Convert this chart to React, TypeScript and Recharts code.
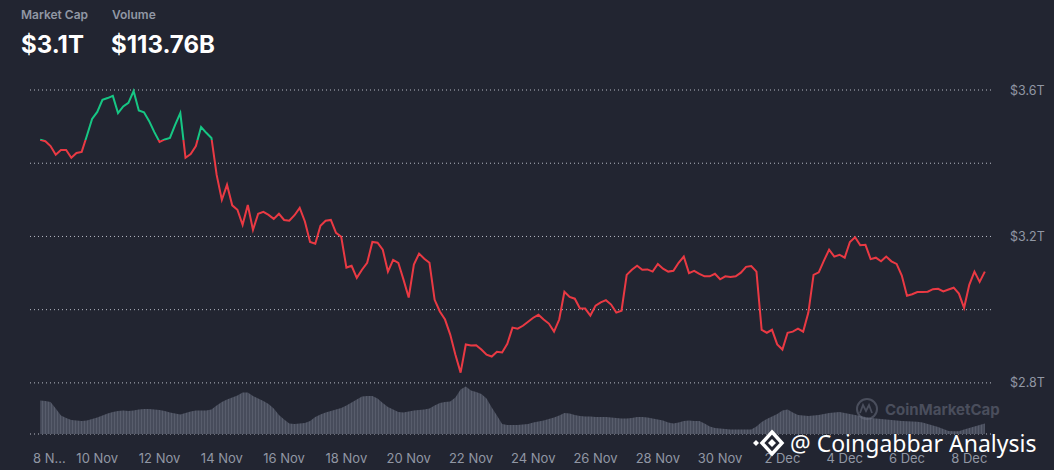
import { Area, CartesianGrid, ComposedChart, Line, XAxis, YAxis } from "recharts";

// market cap in $T, one point every 4 hours from 8 Nov 04:00
const marketCap = [
  3.464, 3.46, 3.447, 3.423, 3.436, 3.436, 3.415, 3.428, 3.431, 3.475,
  3.521, 3.54, 3.573, 3.578, 3.584, 3.537, 3.555, 3.565, 3.597, 3.544,
  3.539, 3.515, 3.485, 3.458, 3.465, 3.469, 3.505, 3.537, 3.415, 3.425,
  3.447, 3.499, 3.483, 3.469, 3.368, 3.3, 3.341, 3.285, 3.273, 3.232,
  3.286, 3.218, 3.262, 3.267, 3.259, 3.248, 3.262, 3.245, 3.243, 3.258,
  3.278, 3.241, 3.185, 3.18, 3.229, 3.243, 3.245, 3.21, 3.199, 3.115,
  3.12, 3.087, 3.109, 3.128, 3.185, 3.183, 3.164, 3.104, 3.136, 3.128,
  3.082, 3.033, 3.123, 3.153, 3.139, 3.128, 3.027, 2.995, 2.973, 2.932,
  2.877, 2.828, 2.905, 2.902, 2.903, 2.891, 2.877, 2.872, 2.885, 2.883,
  2.907, 2.951, 2.948, 2.956, 2.967, 2.978, 2.986, 2.973, 2.962, 2.94,
  2.973, 3.049, 3.035, 3.03, 3.003, 3.003, 2.984, 3.011, 3.02, 3.026,
  3.014, 2.992, 2.997, 3.095, 3.109, 3.12, 3.109, 3.11, 3.104, 3.125,
  3.112, 3.104, 3.106, 3.128, 3.145, 3.1, 3.106, 3.098, 3.091, 3.091,
  3.098, 3.083, 3.091, 3.089, 3.091, 3.101, 3.117, 3.119, 3.104, 2.945,
  2.937, 2.945, 2.905, 2.891, 2.937, 2.94, 2.948, 2.94, 2.992, 3.095,
  3.102, 3.134, 3.164, 3.145, 3.15, 3.142, 3.185, 3.198, 3.176, 3.177,
  3.138, 3.142, 3.132, 3.145, 3.132, 3.125, 3.093, 3.038, 3.042, 3.048,
  3.048, 3.049, 3.056, 3.057, 3.05, 3.055, 3.06, 3.044, 3.005, 3.068,
  3.104, 3.076, 3.104,
];

// 24h volume in $B, same time steps
const volume = [
  134, 132, 128, 102, 74, 64, 56, 54, 52, 54,
  60, 66, 74, 82, 88, 92, 94, 92, 94, 98,
  100, 100, 98, 96, 92, 86, 82, 78, 84, 90,
  94, 94, 94, 98, 114, 128, 138, 146, 154, 166,
  166, 152, 142, 132, 120, 102, 76, 58, 42, 40,
  42, 44, 52, 68, 78, 86, 92, 98, 104, 114,
  126, 138, 150, 152, 152, 142, 124, 108, 98, 88,
  86, 90, 94, 96, 98, 102, 114, 124, 128, 130,
  146, 178, 190, 174, 168, 160, 142, 106, 74, 40,
  36, 36, 36, 38, 40, 46, 50, 54, 60, 66,
  74, 84, 82, 76, 72, 70, 70, 68, 68, 68,
  66, 64, 62, 62, 64, 68, 68, 66, 62, 58,
  54, 46, 42, 46, 52, 54, 52, 52, 42, 30,
  24, 22, 20, 18, 18, 18, 18, 18, 30, 48,
  60, 70, 80, 94, 98, 86, 76, 74, 72, 74,
  76, 80, 84, 86, 88, 84, 80, 76, 72, 68,
  64, 62, 60, 58, 56, 54, 52, 51, 50, 49,
  46, 40, 34, 28, 20, 12, 11, 11, 18, 24,
  30, 36, 42,
];

const startDay = 1 / 6; // days after 8 Nov 00:00
const stepDay = 1 / 6;

const tickDays = [0, 2, 4, 6, 8, 10, 12, 14, 16, 18, 20, 22, 24, 26, 28, 30];
const tickLabels = [
  "8 N...", "10 Nov", "12 Nov", "14 Nov", "16 Nov", "18 Nov", "20 Nov", "22 Nov",
  "24 Nov", "26 Nov", "28 Nov", "30 Nov", "2 Dec", "4 Dec", "6 Dec", "8 Dec",
];

const capTicks = [2.8, 3.0, 3.2, 3.4, 3.6];
const capLabels: Record<string, string> = { "3.6": "$3.6T", "3.2": "$3.2T", "2.8": "$2.8T" };

const data = marketCap.map((cap, i) => ({ day: startDay + i * stepDay, cap, vol: volume[i] }));

const base = marketCap[0];
const hi = Math.max(...marketCap);
const lo = Math.min(...marketCap);
const splitAt = (hi - base) / (hi - lo);

const GREEN = "#16c784";
const RED = "#ea3943";
const MUTED = "#9197a4";
const FONT = "Inter, 'Noto Sans', sans-serif";

function DayTick(props: any) {
  const { x, payload } = props;
  const idx = tickDays.indexOf(payload.value);
  const first = idx === 0;
  return (
    <text x={first ? x - 2 : x} y={463} textAnchor={first ? "start" : "middle"} fill={MUTED} fontSize={13} fontFamily={FONT}>
      {tickLabels[idx]}
    </text>
  );
}

function CapTick(props: any) {
  const { x, y, payload } = props;
  const label = capLabels[String(payload.value)];
  if (!label) return null;
  return (
    <text x={x + 10} y={y + 4.5} textAnchor="start" fill={MUTED} fontSize={12.5} fontFamily={FONT}>
      {label}
    </text>
  );
}

export default function App() {
  return (
    <div style={{ position: "relative", width: 1054, height: 470, background: "#222531", overflow: "hidden" }}>
      <style>{`body{margin:0;background:#222531}`}</style>
      <ComposedChart width={1054} height={470} data={data} margin={{ top: 90, right: 0, bottom: 0, left: 30 }}>
        <defs>
          <linearGradient id="capStroke" x1="0" y1="0" x2="0" y2="1">
            <stop offset={splitAt} stopColor={GREEN} />
            <stop offset={splitAt} stopColor={RED} />
          </linearGradient>
          <pattern id="volStripes" width="3" height="10" patternUnits="userSpaceOnUse">
            <rect width="3" height="10" fill="#474c5b" />
            <rect width="1" height="10" fill="#585d6c" />
          </pattern>
        </defs>
        <CartesianGrid yAxisId="cap" vertical={false} stroke="#b8bcc6" strokeDasharray="1 3" />
        <XAxis
          dataKey="day"
          type="number"
          domain={[-0.16, 30.73]}
          ticks={tickDays}
          interval={0}
          height={36}
          axisLine={false}
          tickLine={false}
          tick={<DayTick />}
        />
        <YAxis
          yAxisId="cap"
          orientation="right"
          width={62}
          domain={[2.6604, 3.6]}
          ticks={capTicks}
          interval={0}
          axisLine={false}
          tickLine={false}
          tick={<CapTick />}
        />
        <YAxis yAxisId="vol" hide domain={[0, 1376]} />
        <Area
          yAxisId="vol"
          dataKey="vol"
          type="linear"
          stroke="none"
          fill="url(#volStripes)"
          fillOpacity={1}
          isAnimationActive={false}
        />
        <Line
          yAxisId="cap"
          dataKey="cap"
          type="linear"
          stroke="url(#capStroke)"
          strokeWidth={2}
          dot={false}
          activeDot={false}
          isAnimationActive={false}
        />
      </ComposedChart>

      <svg width={1054} height={470} style={{ position: "absolute", left: 0, top: 0, pointerEvents: "none" }}>
        <text x={21} y={19} fill={MUTED} fontSize={12} fontWeight={600} fontFamily={FONT}>Market Cap</text>
        <text x={112} y={19} fill={MUTED} fontSize={12} fontWeight={600} fontFamily={FONT}>Volume</text>
        <text x={21} y={53} fill="#ffffff" fontSize={24} fontWeight={700} fontFamily={FONT}>$3.1T</text>
        <text x={111} y={53} fill="#ffffff" fontSize={24} fontWeight={700} fontFamily={FONT}>$113.76B</text>

        <g opacity={0.55}>
          <circle cx={867} cy={409} r={10} fill="none" stroke="#6b7080" strokeWidth={2} />
          <path d="M860 413 L863 405 L866 411 L869 405 L872 413" fill="none" stroke="#6b7080" strokeWidth={1.8} />
          <text x={885} y={415} fill="#6b7080" fontSize={15} fontWeight={700} fontFamily={FONT}>CoinMarketCap</text>
        </g>

        <g>
          <path d="M756 440 L759 443 L756 446 L753 443 Z" fill="#ffffff" />
          <path d="M772 432 L782 443 L772 454 L762 443 Z" fill="none" stroke="#ffffff" strokeWidth={3.5} />
          <path d="M772 439 L776 443 L772 447 L768 443 Z" fill="#ffffff" />
          <text x={790} y={452} fill="#ffffff" fontSize={23} fontFamily="'Noto Sans', sans-serif" stroke="#222531" strokeWidth={0.6} paintOrder="stroke">
            @ Coingabbar Analysis
          </text>
        </g>
      </svg>
    </div>
  );
}
